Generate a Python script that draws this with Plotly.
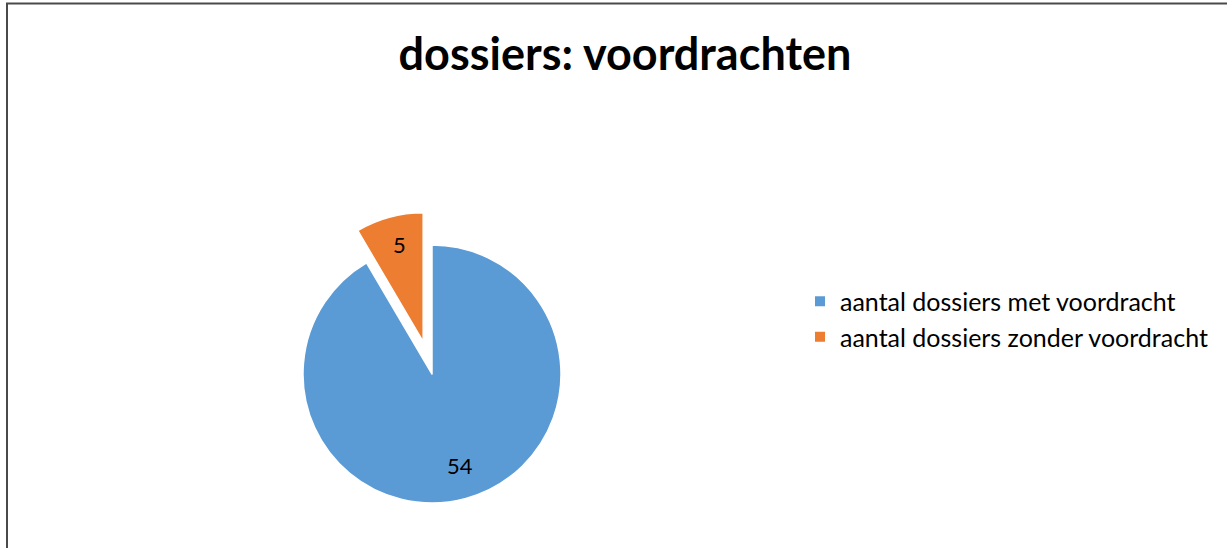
import math
import plotly.graph_objects as go

labels = ["aantal dossiers met voordracht", "aantal dossiers zonder voordracht"]
values = [54, 5]
colors = ["#5B9BD5", "#ED7D31"]
pulls = [0, 0.26]

W, H = 1227, 548
cx, cy, r = 432, 374, 129
half = r * (1 + max(pulls))

FONT = "Lato, Carlito, Calibri, sans-serif"

fig = go.Figure(go.Pie(
    labels=labels, values=values, sort=False, direction="clockwise", rotation=0,
    pull=pulls, marker=dict(colors=colors, line=dict(color="white", width=1.5)),
    textinfo="none",
    domain=dict(x=[(cx - half) / W, (cx + half) / W], y=[(H - cy - half) / H, (H - cy + half) / H]),
    hoverinfo="label+value",
))

# data labels placed along each slice's mid-angle (Excel style)
total = sum(values)
start = 0.0
annotations = []
for v, p in zip(values, pulls):
    frac = v / total
    ang = (start + frac / 2) * 2 * math.pi  # clockwise from 12 o'clock
    start += frac
    ux, uy = math.sin(ang), math.cos(ang)
    dist = r * (0.76 + p)
    px_ = cx + ux * dist + 2
    py_ = cy - uy * dist - 3
    annotations.append(dict(x=px_ / W, y=1 - py_ / H, xref="paper", yref="paper", text=str(v),
                            showarrow=False, font=dict(family=FONT, size=22, color="black"),
                            xanchor="center", yanchor="middle"))

fig.update_layout(
    width=W, height=H, margin=dict(l=0, r=0, t=0, b=0),
    paper_bgcolor="white", plot_bgcolor="white",
    title=dict(text="<b>dossiers: voordrachten</b>", x=625 / W, xanchor="center", y=1 - 54 / H, yanchor="middle",
               font=dict(family=FONT, size=45, color="black")),
    legend=dict(x=800 / W, xanchor="left", y=1 - 319 / H, yanchor="middle",
                font=dict(family=FONT, size=25, color="black"),
                itemsizing="constant", bgcolor="rgba(0,0,0,0)"),
    annotations=annotations,
    shapes=[dict(type="rect", xref="paper", yref="paper", x0=7 / W, x1=1.05, y0=-0.05, y1=1 - 3.5 / H,
                 line=dict(color="#4a4a4a", width=2), fillcolor="rgba(0,0,0,0)", layer="above")],
)

fig.write_html("out.html", config={"displayModeBar": False},
               post_script="document.body.style.margin='0';")
